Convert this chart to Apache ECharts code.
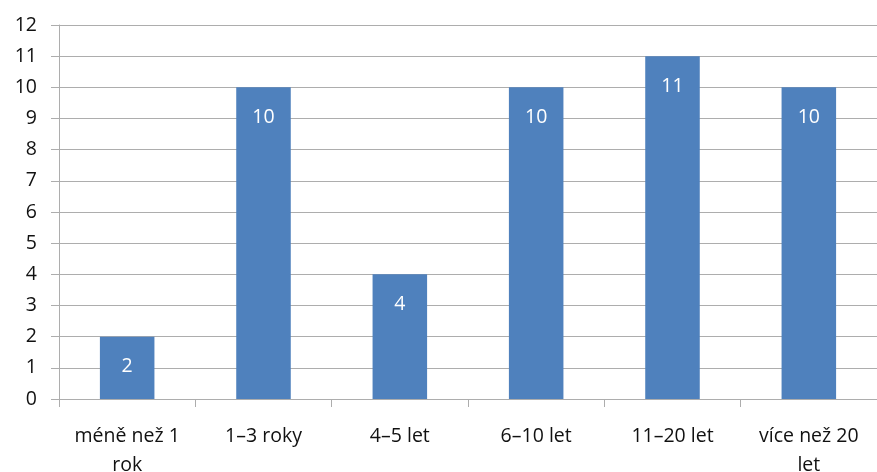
<!DOCTYPE html>
<html>
<head>
<meta charset="utf-8">
<script src="https://cdn.jsdelivr.net/npm/echarts@6/dist/echarts.min.js"></script>
<style>
  html, body { margin: 0; padding: 0; background: #fff; }
  #chart { width: 877px; height: 472px; }
</style>
</head>
<body>
<div id="chart"></div>
<script>
// categories (x axis)
var categories = ['méně než 1\nrok', '1–3 roky', '4–5 let', '6–10 let', '11–20 let', 'více než 20\nlet'];
// bar values
var values = [2, 10, 4, 10, 11, 10];

var font = '"Open Sans", "Noto Sans", sans-serif';

var chart = echarts.init(document.getElementById('chart'));
chart.setOption({
  animation: false,
  grid: { left: 59, right: 0, top: 25, bottom: 73, containLabel: false, outerBoundsMode: 'none' },
  xAxis: {
    type: 'category',
    data: categories,
    axisLine: { lineStyle: { color: '#adadad', width: 1 } },
    axisTick: { show: true, length: 8, lineStyle: { color: '#adadad' } },
    axisLabel: {
      color: '#111', fontSize: 19.5, fontFamily: font,
      margin: 23, lineHeight: 29, interval: 0
    }
  },
  yAxis: {
    type: 'value',
    min: 0, max: 12, interval: 1,
    axisLine: { show: true, lineStyle: { color: '#adadad' } },
    axisTick: { show: true, length: 8, lineStyle: { color: '#adadad' } },
    splitLine: { lineStyle: { color: '#adadad', width: 1 } },
    axisLabel: { color: '#111', fontSize: 19.5, fontFamily: font, margin: 22 }
  },
  series: [{
    type: 'bar',
    data: values,
    barWidth: '40%',
    itemStyle: { color: '#4f81bd' },
    label: {
      show: true, position: 'insideTop', distance: 20,
      color: '#fff', fontSize: 19.5, fontFamily: font
    }
  }]
});
</script>
</body>
</html>
